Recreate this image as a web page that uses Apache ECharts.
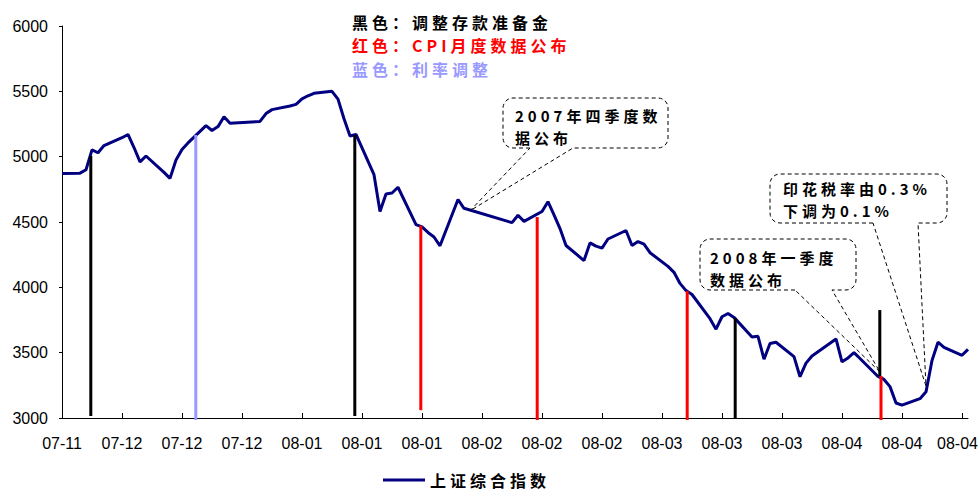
<!DOCTYPE html>
<html>
<head>
<meta charset="utf-8">
<script src="https://cdn.jsdelivr.net/npm/echarts@6/dist/echarts.min.js"></script>
<style>
  html, body { margin: 0; padding: 0; background: #ffffff; }
  #chart { width: 979px; height: 492px; }
  /* wide-tracked CJK captions */
  #chart text[style*="Noto Sans CJK"] { letter-spacing: 4px; }
</style>
</head>
<body>
<div id="chart"></div>
<script>
// Shanghai Composite daily closes
const tradeDates = [
  '2007-11-30','2007-12-03','2007-12-04','2007-12-05','2007-12-06','2007-12-07',
  '2007-12-10','2007-12-11','2007-12-12','2007-12-13','2007-12-14',
  '2007-12-17','2007-12-18','2007-12-19','2007-12-20','2007-12-21',
  '2007-12-24','2007-12-25','2007-12-26','2007-12-27','2007-12-28',
  '2008-01-02','2008-01-03','2008-01-04',
  '2008-01-07','2008-01-08','2008-01-09','2008-01-10','2008-01-11',
  '2008-01-14','2008-01-15','2008-01-16','2008-01-17','2008-01-18',
  '2008-01-21','2008-01-22','2008-01-23','2008-01-24','2008-01-25',
  '2008-01-28','2008-01-29','2008-01-30','2008-01-31','2008-02-01',
  '2008-02-04','2008-02-05',
  '2008-02-13','2008-02-14','2008-02-15',
  '2008-02-18','2008-02-19','2008-02-20','2008-02-21','2008-02-22',
  '2008-02-25','2008-02-26','2008-02-27','2008-02-28','2008-02-29',
  '2008-03-03','2008-03-04','2008-03-05','2008-03-06','2008-03-07',
  '2008-03-10','2008-03-11','2008-03-12','2008-03-13','2008-03-14',
  '2008-03-17','2008-03-18','2008-03-19','2008-03-20','2008-03-21',
  '2008-03-24','2008-03-25','2008-03-26','2008-03-27','2008-03-28',
  '2008-03-31','2008-04-01','2008-04-02','2008-04-03',
  '2008-04-07','2008-04-08','2008-04-09','2008-04-10','2008-04-11',
  '2008-04-14','2008-04-15','2008-04-16','2008-04-17','2008-04-18',
  '2008-04-21','2008-04-22','2008-04-23','2008-04-24','2008-04-25',
  '2008-04-28','2008-04-29'
];
const closeValues = [
  4872, 4874, 4900, 5052, 5030, 5085,
  5145, 5170, 5070, 4960, 5005,
  4880, 4834, 4975, 5055, 5105,
  5237, 5200, 5230, 5305, 5256,
  5270, 5330, 5360,
  5388, 5400, 5442, 5466, 5485,
  5500, 5440, 5290, 5158, 5170,
  4862, 4580, 4715, 4722, 4766,
  4480, 4462, 4420, 4385, 4318,
  4672, 4605,
  4495, 4552, 4505,
  4580, 4655, 4555, 4450, 4320,
  4205, 4340, 4315, 4300, 4370,
  4435, 4320, 4350, 4330, 4265,
  4160, 4115, 4030, 3975, 3945,
  3760, 3680, 3775, 3800, 3770,
  3620, 3625, 3450, 3570, 3580,
  3470, 3316, 3420, 3475,
  3605, 3430, 3460, 3500, 3455,
  3318, 3295, 3240, 3115, 3098,
  3148, 3200, 3440, 3580, 3540,
  3480, 3525
];

// x-axis labels, one every 10 calendar days from 2007-11-30
const tickLabels = ['07-11','07-12','07-12','07-12','08-01','08-01','08-01','08-02',
                    '08-02','08-02','08-03','08-03','08-03','08-04','08-04','08-04'];

// policy / data-release events (day offset from 2007-11-30, low and high end of the marker)
const rrrDays  = [4.8, 48.8, 112.2, 136.3];     // reserve requirement changes
const rrrLow   = [3015, 3015, 3000, 3321];
const rrrHigh  = [5005, 5166, 3765, 3826];
const cpiDays  = [59.8, 79.2, 104.2, 136.5];    // monthly CPI releases
const cpiLow   = [3060, 2985, 2985, 2985];
const cpiHigh  = [4472, 4538, 3972, 3321];
const rateDays = [22.3];                        // interest rate change
const rateLow  = [2985];
const rateHigh = [5166];

const BASE = Date.UTC(2007, 10, 30);
const toDay = s => (Date.parse(s + 'T00:00:00Z') - BASE) / 86400000;
const indexData = tradeDates.map((d, i) => [toDay(d), closeValues[i]]);
const tickDays = tickLabels.map((_, i) => i * 10);

// one short vertical line series per event
function eventSeries(tag, days, lo, hi, color) {
  return days.map((d, i) => ({
    name: tag + i, type: 'line', clip: false, z: 5, silent: true,
    symbol: 'none', showSymbol: false,
    data: [[d, lo[i]], [d, hi[i]]],
    lineStyle: { color: color, width: 3, cap: 'butt' },
    itemStyle: { color: color },
    emphasis: { disabled: true }
  }));
}

const AXIS_FONT = { fontFamily: '"Liberation Sans", Arial, sans-serif', fontSize: 16, color: '#000' };
const CJK = '"Noto Sans CJK SC", sans-serif';

const chart = echarts.init(document.getElementById('chart'), null, { renderer: 'svg' });
chart.setOption({
  animation: false,
  backgroundColor: '#ffffff',
  grid: { left: 62, right: 11, top: 26, bottom: 74, containLabel: false, outerBoundsMode: 'none' },
  xAxis: {
    type: 'value', min: 0, max: 151, interval: 10,
    axisLine: { show: true, lineStyle: { color: '#000', width: 1 } },
    axisTick: { show: true, inside: true, length: 5, customValues: tickDays, lineStyle: { color: '#000' } },
    axisLabel: Object.assign({
      margin: 17, customValues: tickDays,
      formatter: v => {
        const i = Math.round(v / 10);
        const s = tickLabels[i] || '';
        // keep the right-most label inside the canvas
        return i === tickLabels.length - 1 ? '{edge|' + s + '}' : s;
      },
      rich: { edge: Object.assign({ padding: [0, 9, 0, 0] }, AXIS_FONT) }
    }, AXIS_FONT),
    splitLine: { show: false }
  },
  yAxis: {
    type: 'value', min: 3000, max: 6000, interval: 500,
    axisLine: { show: true, lineStyle: { color: '#000', width: 1 } },
    axisTick: { show: true, inside: false, length: 3, lineStyle: { color: '#000' } },
    axisLabel: Object.assign({ margin: 14, formatter: v => String(v) }, AXIS_FONT),
    splitLine: { show: false }
  },
  legend: {
    data: ['上证综合指数'], left: 383, top: 472, padding: 0,
    icon: 'rect', itemWidth: 42, itemHeight: 3, selectedMode: false,
    textStyle: { fontFamily: CJK, fontWeight: 'bold', fontSize: 16, color: '#000' }
  },
  series: [
    {
      name: '上证综合指数', type: 'line', data: indexData, z: 3,
      showSymbol: false, symbol: 'none', smooth: false,
      lineStyle: { color: '#000080', width: 3 }, itemStyle: { color: '#000080' }
    }
  ].concat(
    eventSeries('rrr', rrrDays, rrrLow, rrrHigh, '#000000'),
    eventSeries('cpi', cpiDays, cpiLow, cpiHigh, '#FF0000'),
    eventSeries('rate', rateDays, rateLow, rateHigh, '#9999FF')
  )
});

// caption boxes with dashed pointers to the index line
const callouts = [
  { x0: 503, y0: 98,  x1: 668, y1: 148, bases: [530, 573], tip: [68, 4586],
    text: '2007年四季度数\n据公布', tx: 515, ty: 104 },
  { x0: 700, y0: 239, x1: 856, y1: 290, bases: [795, 832], tip: [136.33, 3352],
    text: '2008年一季度\n数据公布', tx: 710, ty: 246 },
  { x0: 770, y0: 174, x1: 947, y1: 223, bases: [873, 918], tip: [144, 3245],
    text: '印花税率由0.3%\n下调为0.1%', tx: 783, ty: 177 }
];

function calloutOutline(b, tipPx) {
  const r = 10, pts = [[b.bases[0], b.y1]];
  const corner = (cx, cy, a0) => {
    for (let k = 0; k <= 6; k++) {
      const a = (a0 + k * 15) * Math.PI / 180;
      pts.push([cx + r * Math.cos(a), cy + r * Math.sin(a)]);
    }
  };
  corner(b.x0 + r, b.y1 - r, 90);
  corner(b.x0 + r, b.y0 + r, 180);
  corner(b.x1 - r, b.y0 + r, 270);
  corner(b.x1 - r, b.y1 - r, 0);
  pts.push([b.bases[1], b.y1]);
  pts.push(tipPx);
  return pts;
}

const graphics = [];
const legendLines = [
  { text: '黑色：调整存款准备金', color: '#000000', y: 22 },
  { text: '红色：CPI月度数据公布', color: '#FF0000', y: 45 },
  { text: '蓝色：利率调整', color: '#9999FF', y: 68.5 }
];
legendLines.forEach(l => graphics.push({
  type: 'text', x: 352, y: l.y, z: 50, silent: true,
  style: { text: l.text, fill: l.color, fontFamily: CJK, fontWeight: 'bold', fontSize: 16,
           verticalAlign: 'middle', align: 'left' }
}));
callouts.forEach(b => {
  const tipPx = chart.convertToPixel({ gridIndex: 0 }, b.tip);
  graphics.push({
    type: 'polygon', z: 40, silent: true,
    shape: { points: calloutOutline(b, tipPx) },
    style: { fill: 'none', stroke: '#000', lineWidth: 1, lineDash: [4, 3] }
  });
  graphics.push({
    type: 'text', x: b.tx, y: b.ty, z: 50, silent: true,
    style: { text: b.text, fill: '#000', fontFamily: CJK, fontWeight: 'bold', fontSize: 15,
             lineHeight: 22, verticalAlign: 'top', align: 'left' }
  });
});
chart.setOption({ graphic: { elements: graphics } });
</script>
</body>
</html>
